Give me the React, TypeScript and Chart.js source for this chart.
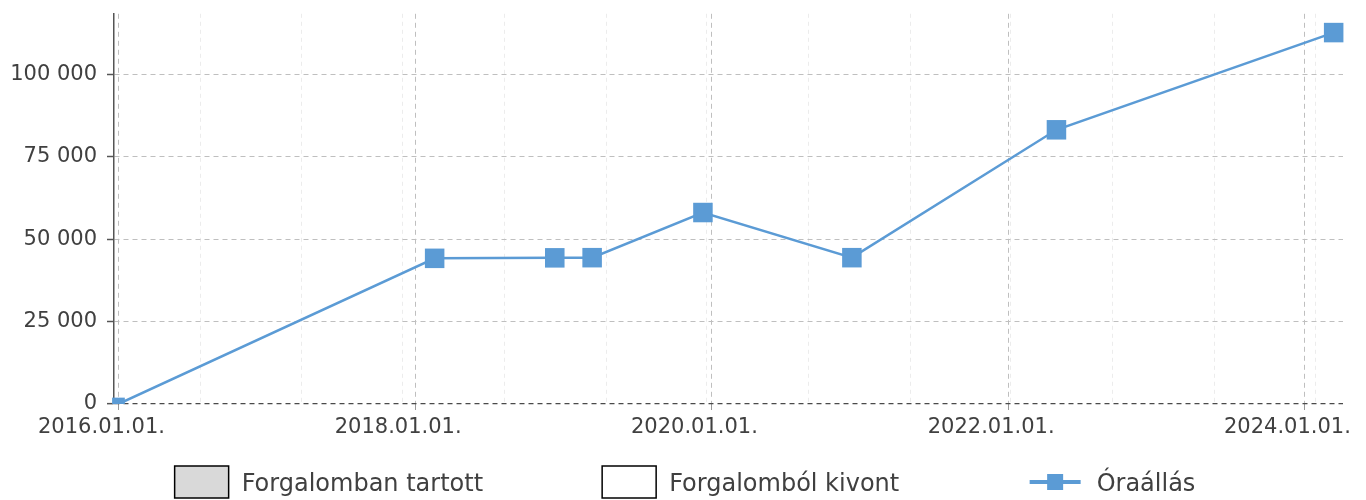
import React, { useEffect, useRef } from "react";
import { Chart, registerables } from "chart.js";

Chart.register(...registerables);

// ---- data ----
const pointDates = [
  "2016-01-01",
  "2018-02-18",
  "2018-12-11",
  "2019-03-13",
  "2019-12-11",
  "2020-12-12",
  "2022-04-30",
  "2024-03-13",
];
const pointValues = [0, 44200, 44350, 44400, 58100, 44400, 83200, 112700];

const majorTickDates = ["2016-01-01", "2018-01-01", "2020-01-01", "2022-01-01", "2024-01-01"];
const minorTickDates = [
  "2016-07-21",
  "2017-03-26",
  "2017-12-01",
  "2018-08-08",
  "2019-04-17",
  "2019-12-21",
  "2020-08-27",
  "2021-05-05",
  "2022-01-08",
  "2022-09-16",
  "2023-05-24",
  "2024-01-29",
];
const yTickValues = [0, 25000, 50000, 75000, 100000];
const xMinDate = "2015-12-21";
const xMaxDate = "2024-04-05";
const yMaxValue = 118400;

const legendLabels = ["Forgalomban tartott", "Forgalomból kivont", "Óraállás"];

// ---- helpers ----
const ms = (s: string) => Date.parse(s + "T00:00:00Z");
const pad2 = (n: number) => (n < 10 ? "0" + n : String(n));
const fmtDate = (v: number) => {
  const d = new Date(v);
  return `${d.getUTCFullYear()}.${pad2(d.getUTCMonth() + 1)}.${pad2(d.getUTCDate())}.`;
};
const fmtNum = (v: number) => String(Math.round(v)).replace(/\B(?=(\d{3})+(?!\d))/g, " ");

const BLUE = "#5b9bd5";
const TEXT = "#404040";
const FONT = "DejaVu Sans";

const columnLegend = {
  id: "columnLegend",
  afterDraw(chart: any) {
    const ctx = chart.ctx as CanvasRenderingContext2D;
    const ds = chart.data.datasets;
    const boxW = 54;
    const boxH = 32;
    const gap = 13;
    const pitch = 427.5;
    ctx.save();
    ctx.font = `24px "${FONT}"`;
    const widths = ds.map((d: any) => boxW + gap + ctx.measureText(d.label).width);
    const total = pitch * (ds.length - 1) + widths[widths.length - 1];
    const x0 = (chart.width - total) / 2 + 2;
    const cy = chart.height - 18;
    ds.forEach((d: any, i: number) => {
      const x = x0 + pitch * i;
      if (d.legendKind === "box") {
        ctx.fillStyle = d.backgroundColor;
        ctx.fillRect(x, cy - boxH / 2, boxW, boxH);
        ctx.strokeStyle = d.borderColor;
        ctx.lineWidth = 1.5;
        ctx.strokeRect(x, cy - boxH / 2, boxW, boxH);
      } else {
        ctx.strokeStyle = d.borderColor;
        ctx.lineWidth = 4;
        ctx.beginPath();
        ctx.moveTo(x, cy);
        ctx.lineTo(x + boxW - 3, cy);
        ctx.stroke();
        ctx.fillStyle = d.backgroundColor;
        const s = 16;
        ctx.fillRect(x + (boxW - 3) / 2 - s / 2, cy - s / 2, s, s);
      }
      ctx.fillStyle = TEXT;
      ctx.textBaseline = "alphabetic";
      ctx.textAlign = "left";
      ctx.fillText(d.label, x + boxW + gap, cy + 9);
    });
    ctx.restore();
  },
};

export default function App() {
  const ref = useRef<HTMLCanvasElement>(null);

  useEffect(() => {
    if (!ref.current) return;
    Chart.defaults.font.family = FONT;
    const chart = new Chart(ref.current, {
      type: "line",
      data: {
        datasets: [
          {
            label: legendLabels[0],
            data: [],
            legendKind: "box",
            backgroundColor: "#d9d9d9",
            borderColor: "#000000",
          } as any,
          {
            label: legendLabels[1],
            data: [],
            legendKind: "box",
            backgroundColor: "#ffffff",
            borderColor: "#000000",
          } as any,
          {
            label: legendLabels[2],
            legendKind: "line",
            data: pointDates.map((d, i) => ({ x: ms(d), y: pointValues[i] })),
            borderColor: BLUE,
            backgroundColor: BLUE,
            borderWidth: 2.5,
            pointStyle: "rect",
            pointRadius: (c: any) => (c.dataIndex === 0 ? 9 : 13.8),
            pointBorderWidth: 0,
            pointBackgroundColor: BLUE,
            tension: 0,
            clip: { left: 5, top: 20, right: 20, bottom: 0 },
            xAxisID: "x",
            yAxisID: "y",
          } as any,
        ],
      },
      options: {
        responsive: false,
        animation: false,
        layout: { padding: { top: 12, right: 23, bottom: 56, left: 0 } },
        plugins: { legend: { display: false }, tooltip: { enabled: false } },
        scales: {
          xm: {
            type: "linear",
            position: "bottom",
            min: ms(xMinDate),
            max: ms(xMaxDate),
            afterBuildTicks: (s: any) => {
              s.ticks = minorTickDates.map((d) => ({ value: ms(d) }));
            },
            afterFit: (s: any) => {
              s.height = 0;
              s.paddingLeft = 0;
              s.paddingRight = 0;
            },
            ticks: { display: false },
            grid: { color: "#ececec", lineWidth: 1, drawTicks: false },
            border: { display: false, dash: [4, 4] },
          },
          x: {
            type: "linear",
            position: "bottom",
            min: ms(xMinDate),
            max: ms(xMaxDate),
            afterBuildTicks: (s: any) => {
              s.ticks = majorTickDates.map((d) => ({ value: ms(d) }));
            },
            afterFit: (s: any) => {
              s.height = 40;
              s.paddingLeft = 0;
              s.paddingRight = 0;
            },
            ticks: {
              callback: (v: any) => fmtDate(Number(v)),
              color: TEXT,
              font: { size: 21 },
              padding: 5,
              labelOffset: -17,
              maxRotation: 0,
              autoSkip: false,
            },
            grid: {
              color: "#bfbfbf",
              lineWidth: 1,
              tickLength: 6,
              tickColor: "#999999",
              tickWidth: 1,
              tickBorderDash: [],
            },
            border: { display: false, dash: [5, 4] },
          },
          y: {
            type: "linear",
            position: "left",
            min: 0,
            max: yMaxValue,
            afterBuildTicks: (s: any) => {
              s.ticks = yTickValues.map((v) => ({ value: v }));
            },
            afterFit: (s: any) => {
              s.width = 114;
              s.paddingTop = 0;
              s.paddingBottom = 0;
            },
            ticks: {
              callback: (v: any) => fmtNum(Number(v)),
              color: TEXT,
              font: { size: 21 },
              padding: 10,
            },
            grid: {
              color: (c: any) => (c.tick && c.tick.value === 0 ? "#4a4a4a" : "#bfbfbf"),
              lineWidth: (c: any) => (c.tick && c.tick.value === 0 ? 1.3 : 1),
              tickLength: 7,
              tickColor: "#555555",
              tickWidth: 1.5,
              tickBorderDash: [],
            },
            border: { display: true, color: "#555555", width: 1.5, dash: [5, 4] },
          },
        },
      } as any,
      plugins: [columnLegend],
    });
    return () => chart.destroy();
  }, []);

  return (
    <div style={{ position: "fixed", left: 0, top: 0, width: 1366, height: 500 }}>
      <canvas ref={ref} width={1366} height={500} style={{ display: "block" }} />
    </div>
  );
}
